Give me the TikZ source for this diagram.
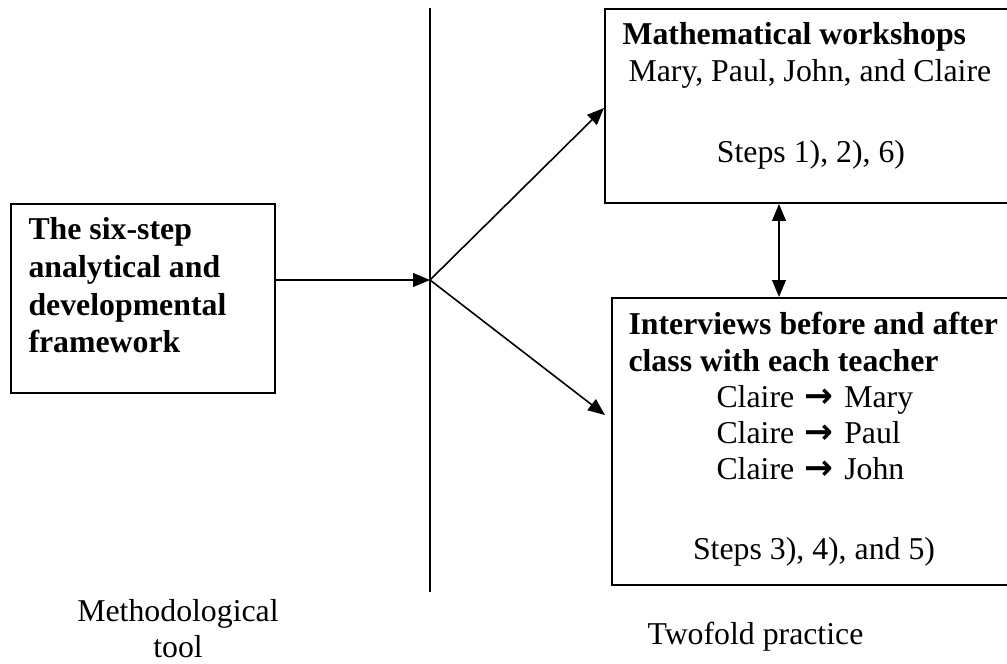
\documentclass[tikz,border=0pt]{standalone}
\usepackage{fontspec}
\setmainfont{Liberation Serif}
\newfontfamily\arrowfont{DejaVu Sans}
\usetikzlibrary{arrows.meta}

% heavy arrow used between the names
\newcommand{\tto}{\hspace{1pt}{\arrowfont\bfseries\fontsize{13pt}{13pt}\selectfont →}\hspace{1pt}}

\begin{document}
\begin{tikzpicture}[
    x=0.3774pt, y=-0.3774pt,
    font=\fontsize{12pt}{13.8pt}\selectfont,
    frame/.style={draw, line width=0.75pt, inner sep=0pt, anchor=north west},
    tip/.tip={Triangle[length=6.4pt,width=5.2pt]},
    link/.style={line width=0.6pt, -tip},
    both/.style={line width=0.6pt, tip-tip},
    line/.style={inner sep=0pt, anchor=base west},
    cline/.style={inner sep=0pt, anchor=base},
    bold/.style={font=\fontsize{12pt}{13.8pt}\selectfont\bfseries},
  ]
  \clip (0,0) rectangle (1007,664);

  % boxes
  \node[frame, minimum width=264*0.3774pt, minimum height=189*0.3774pt] (tool) at (10,203) {};
  \node[frame, minimum width=410*0.3774pt, minimum height=194*0.3774pt] (work) at (604,8) {};
  \node[frame, minimum width=403*0.3774pt, minimum height=287*0.3774pt] (intv) at (611,297) {};

  % dividing line and the point where the arrows meet
  \coordinate (vtop) at (430,8);
  \coordinate (vbot) at (430,592);
  \coordinate (hub) at (430,280);
  \draw[line width=0.6pt] (vtop) -- (vbot);

  % left box text
  \node[line, bold] (t1) at (28,240) {The six-step};
  \node[line, bold] (t2) at (28,278) {analytical and};
  \node[line, bold] (t3) at (28,316) {developmental};
  \node[line, bold] (t4) at (28,353) {framework};

  % workshop box text
  \node[line, bold] (w1) at (622,45) {Mathematical workshops};
  \node[line] (w2) at (628,82) {Mary, Paul, John, and Claire};
  \node[cline] (w3) at (811,163) {Steps 1), 2), 6)};

  % interview box text
  \node[line, bold] (i1) at (628,335) {Interviews before and after};
  \node[line, bold] (i2) at (628,372) {class with each teacher};
  \node[line] (i3) at (716,408) {Claire \tto{} Mary};
  \node[line] (i4) at (716,444) {Claire \tto{} Paul};
  \node[line] (i5) at (716,480) {Claire \tto{} John};
  \node[cline] (i6) at (814,560) {Steps 3), 4), and 5)};

  % captions under the picture
  \node[cline] (m1) at (178,622) {Methodological};
  \node[cline] (m2) at (178,658) {tool};
  \node[line] (p1) at (647,645) {Twofold practice};

  % connectors
  \draw[link] (tool.east |- hub) -- (hub);
  \draw[link] (hub) -- (work.west |- 0,108);
  \draw[link] (hub) -- ([xshift=-6*0.3774pt]intv.west |- 0,415);
  \draw[both] (work.south -| 779,0) -- (intv.north -| 779,0);
\end{tikzpicture}
\end{document}
